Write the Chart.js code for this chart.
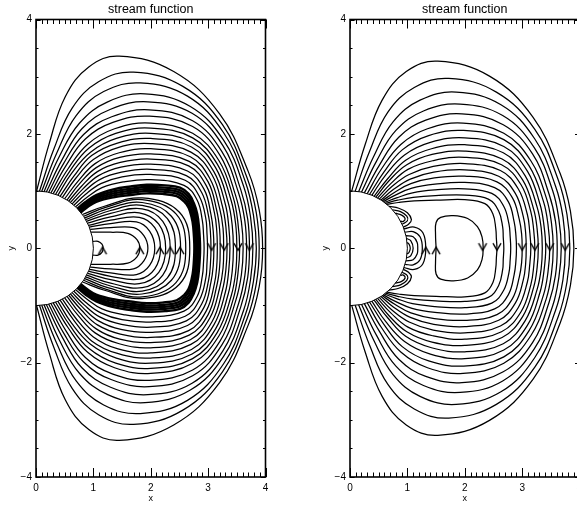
<!DOCTYPE html>
<html><head><meta charset="utf-8">
<script src="https://cdn.jsdelivr.net/npm/chart.js@4/dist/chart.umd.min.js"></script>
<style>
html,body{margin:0;padding:0;background:#fff;overflow:hidden;width:577px;height:506px;position:relative;}
#cl{position:absolute;left:0;top:0;}
#cr{position:absolute;left:290px;top:0;}
</style></head><body>
<canvas id="cl" width="290" height="506"></canvas>
<canvas id="cr" width="300" height="506"></canvas>
<script>
// ---------- tick labels ----------
const xTickValues = [0, 1, 2, 3, 4];
const xTickLabels = ['0', '1', '2', '3', '4'];
const yTickValues = [-4, -2, 0, 2, 4];
const yTickLabels = ['\u22124', '\u22122', '0', '2', '4'];
const panelTitle = 'stream function';

// ---------- LEFT panel: upper halves (sphere -> y=0 axis), mirrored below ----------
const leftOuter = [
 [[0.01,1.0],[0.23,1.83],[0.51,2.65],[0.92,3.17],[1.45,3.36],[2.40,3.09],[3.20,2.35],[3.70,1.34],[3.89,0.67],[3.95,0]],
 [[0.06,0.998],[0.31,1.73],[0.63,2.45],[1.09,2.91],[1.70,3.08],[2.56,2.83],[3.25,2.16],[3.68,1.23],[3.84,0.62],[3.89,0]],
 [[0.10,0.995],[0.36,1.66],[0.70,2.32],[1.18,2.74],[1.82,2.89],[2.64,2.66],[3.27,2.02],[3.65,1.16],[3.79,0.58],[3.84,0]],
 [[0.14,0.990],[0.40,1.59],[0.76,2.19],[1.25,2.56],[1.90,2.70],[2.69,2.48],[3.27,1.89],[3.62,1.08],[3.74,0.54],[3.78,0]],
 [[0.18,0.984],[0.45,1.54],[0.80,2.09],[1.30,2.43],[1.95,2.56],[2.72,2.36],[3.26,1.79],[3.57,1.02],[3.69,0.51],[3.72,0]],
 [[0.22,0.976],[0.48,1.48],[0.83,1.99],[1.32,2.30],[1.97,2.42],[2.73,2.23],[3.24,1.69],[3.53,0.97],[3.64,0.48],[3.67,0]],
 [[0.26,0.966],[0.52,1.44],[0.86,1.91],[1.34,2.20],[1.98,2.31],[2.73,2.13],[3.21,1.62],[3.48,0.92],[3.58,0.46],[3.61,0]],
 [[0.30,0.954],[0.56,1.39],[0.90,1.82],[1.37,2.09],[2.00,2.19],[2.73,2.01],[3.19,1.53],[3.44,0.88],[3.52,0.44],[3.55,0]],
 [[0.34,0.940],[0.59,1.35],[0.92,1.75],[1.39,2.01],[2.00,2.10],[2.73,1.93],[3.16,1.47],[3.40,0.84],[3.48,0.42],[3.50,0]],
 [[0.38,0.925],[0.62,1.31],[0.95,1.68],[1.40,1.92],[2.00,2.01],[2.72,1.85],[3.13,1.41],[3.35,0.80],[3.42,0.40],[3.44,0]],
 [[0.42,0.908],[0.66,1.26],[0.97,1.62],[1.42,1.84],[2.00,1.92],[2.71,1.77],[3.10,1.34],[3.30,0.77],[3.36,0.38],[3.38,0]],
 [[0.46,0.888],[0.69,1.22],[1.00,1.55],[1.43,1.76],[2.00,1.83],[2.70,1.68],[3.07,1.28],[3.25,0.73],[3.31,0.37],[3.33,0]],
 [[0.50,0.866],[0.73,1.17],[1.03,1.48],[1.45,1.67],[2.00,1.74],[2.69,1.60],[3.03,1.22],[3.20,0.70],[3.26,0.35],[3.27,0]],
 [[0.54,0.842],[0.76,1.13],[1.05,1.41],[1.46,1.59],[2.00,1.65],[2.67,1.52],[3.00,1.16],[3.15,0.66],[3.20,0.33],[3.21,0]],
 [[0.57,0.822],[0.79,1.08],[1.07,1.34],[1.47,1.50],[2.00,1.56],[2.66,1.44],[2.97,1.09],[3.11,0.62],[3.15,0.31],[3.16,0]],
 [[0.60,0.800],[0.81,1.03],[1.09,1.27],[1.48,1.42],[2.00,1.47],[2.64,1.35],[2.93,1.03],[3.05,0.59],[3.09,0.29],[3.10,0]],
 [[0.63,0.776],[0.84,0.99],[1.11,1.20],[1.49,1.33],[2.00,1.38],[2.62,1.27],[2.89,0.97],[3.01,0.55],[3.04,0.28],[3.05,0]],
 [[0.66,0.751],[0.86,0.94],[1.13,1.13],[1.50,1.25],[2.00,1.29],[2.60,1.19],[2.85,0.90],[2.96,0.52],[2.98,0.26],[2.99,0]],
 [[0.69,0.724],[0.89,0.89],[1.15,1.06],[1.52,1.16],[2.00,1.20],[2.58,1.10],[2.81,0.84],[2.90,0.48],[2.92,0.24],[2.93,0]]
];
const leftBand = [
 [[0.72,0.694],[0.85,0.80],[1.05,0.93],[1.35,1.03],[1.65,1.08],[1.93,1.11],[2.25,1.10],[2.51,1.06],[2.66,0.95],[2.75,0.79],[2.81,0.6],[2.84,0.38],[2.86,0]],
 [[0.735,0.678],[0.86,0.78],[1.05,0.90],[1.35,0.995],[1.65,1.04],[1.93,1.07],[2.235,1.06],[2.495,1.02],[2.64,0.92],[2.73,0.77],[2.785,0.59],[2.815,0.38],[2.835,0]],
 [[0.75,0.661],[0.875,0.76],[1.05,0.87],[1.35,0.96],[1.65,1.005],[1.93,1.035],[2.22,1.025],[2.48,0.985],[2.62,0.885],[2.705,0.75],[2.76,0.575],[2.79,0.38],[2.81,0]],
 [[0.765,0.644],[0.89,0.74],[1.05,0.84],[1.35,0.925],[1.65,0.97],[1.93,1.0],[2.21,0.99],[2.465,0.95],[2.60,0.85],[2.68,0.73],[2.735,0.56],[2.765,0.38],[2.785,0]],
 [[0.78,0.626],[0.9,0.72],[1.05,0.81],[1.35,0.89],[1.65,0.93],[1.93,0.96],[2.2,0.95],[2.45,0.91],[2.58,0.82],[2.66,0.71],[2.71,0.55],[2.74,0.38],[2.76,0]]
];
const leftInner = [
 [[0.993,0.12],[1.08,0.12],[1.15,0.07],[1.17,0]],
 [[0.96,0.28],[1.3,0.28],[1.6,0.26],[1.76,0.15],[1.81,0]],
 [[0.945,0.33],[1.3,0.36],[1.7,0.36],[1.88,0.22],[1.95,0]],
 [[0.93,0.37],[1.3,0.43],[1.75,0.46],[1.98,0.3],[2.07,0]],
 [[0.915,0.40],[1.3,0.49],[1.8,0.54],[2.07,0.36],[2.17,0]],
 [[0.90,0.44],[1.3,0.55],[1.8,0.62],[2.14,0.42],[2.26,0]],
 [[0.88,0.47],[1.3,0.61],[1.85,0.69],[2.21,0.47],[2.34,0]],
 [[0.865,0.50],[1.3,0.66],[1.85,0.75],[2.29,0.52],[2.43,0]],
 [[0.85,0.53],[1.25,0.69],[1.85,0.80],[2.36,0.56],[2.52,0]],
 [[0.83,0.56],[1.2,0.71],[1.85,0.85],[2.44,0.60],[2.61,0]],
 [[0.81,0.59],[1.18,0.73],[1.85,0.88],[2.5,0.63],[2.68,0]]
];
const leftArrowsUp = [1.16, 1.81, 2.16, 2.34, 2.51];
const leftArrowsDown = [3.06, 3.28, 3.52, 3.72];

// ---------- RIGHT panel ----------
const rightOuter = [
 [[0.03,1.0],[0.26,1.80],[0.56,2.59],[0.98,3.09],[1.53,3.27],[2.43,3.01],[3.19,2.29],[3.66,1.31],[3.84,0.65],[3.90,0]],
 [[0.09,0.996],[0.34,1.69],[0.66,2.38],[1.12,2.81],[1.72,2.97],[2.55,2.73],[3.22,2.08],[3.63,1.19],[3.78,0.59],[3.83,0]],
 [[0.15,0.989],[0.41,1.60],[0.75,2.21],[1.22,2.59],[1.85,2.73],[2.63,2.51],[3.22,1.91],[3.58,1.09],[3.71,0.55],[3.75,0]],
 [[0.20,0.980],[0.46,1.52],[0.80,2.06],[1.28,2.40],[1.92,2.52],[2.66,2.32],[3.21,1.76],[3.53,1.01],[3.64,0.50],[3.68,0]],
 [[0.25,0.968],[0.51,1.45],[0.85,1.94],[1.32,2.24],[1.95,2.35],[2.67,2.16],[3.18,1.65],[3.47,0.94],[3.58,0.47],[3.61,0]],
 [[0.30,0.954],[0.55,1.39],[0.89,1.82],[1.35,2.09],[1.97,2.19],[2.68,2.01],[3.15,1.53],[3.42,0.88],[3.51,0.44],[3.54,0]],
 [[0.34,0.940],[0.59,1.33],[0.91,1.72],[1.37,1.97],[1.98,2.06],[2.68,1.90],[3.12,1.44],[3.37,0.82],[3.45,0.41],[3.48,0]],
 [[0.38,0.925],[0.62,1.28],[0.95,1.63],[1.40,1.85],[2.00,1.93],[2.68,1.78],[3.09,1.35],[3.31,0.77],[3.38,0.39],[3.41,0]],
 [[0.42,0.908],[0.66,1.22],[0.97,1.54],[1.42,1.74],[2.00,1.81],[2.67,1.67],[3.05,1.27],[3.26,0.72],[3.33,0.36],[3.35,0]],
 [[0.45,0.893],[0.68,1.18],[0.99,1.46],[1.43,1.64],[2.00,1.70],[2.65,1.56],[3.01,1.19],[3.20,0.68],[3.26,0.34],[3.28,0]],
 [[0.48,0.877],[0.71,1.13],[1.01,1.38],[1.44,1.53],[2.00,1.59],[2.64,1.46],[2.98,1.11],[3.15,0.64],[3.20,0.32],[3.22,0]],
 [[0.51,0.860],[0.73,1.08],[1.03,1.29],[1.45,1.43],[2.00,1.48],[2.62,1.36],[2.93,1.04],[3.09,0.59],[3.13,0.30],[3.15,0]],
 [[0.54,0.842],[0.76,1.03],[1.05,1.21],[1.46,1.33],[2.00,1.37],[2.59,1.26],[2.88,0.96],[3.02,0.55],[3.06,0.27],[3.07,0]],
 [[0.56,0.828],[0.78,0.98],[1.06,1.13],[1.47,1.23],[2.00,1.26],[2.56,1.16],[2.83,0.88],[2.95,0.50],[2.99,0.25],[3.00,0]],
 [[0.58,0.815],[0.79,0.93],[1.08,1.05],[1.48,1.12],[2.00,1.15],[2.52,1.06],[2.76,0.81],[2.86,0.46],[2.89,0.23],[2.90,0]],
 [[0.60,0.800],[0.81,0.88],[1.09,0.97],[1.48,1.02],[2.00,1.04],[2.47,0.96],[2.68,0.73],[2.77,0.42],[2.79,0.21],[2.80,0]],
 [[0.62,0.785],[0.83,0.84],[1.10,0.89],[1.49,0.92],[2.00,0.93],[2.41,0.86],[2.59,0.65],[2.66,0.37],[2.67,0.19],[2.68,0]],
 [[0.64,0.768],[0.84,0.80],[1.12,0.83],[1.50,0.84],[2.00,0.85],[2.35,0.78],[2.49,0.60],[2.54,0.34],[2.55,0.17],[2.56,0]]
];
const rightD = [[1.50,0],[1.49,0.25],[1.50,0.45],[1.58,0.54],[1.80,0.57],[2.05,0.52],[2.22,0.38],[2.30,0.2],[2.32,0]];
const rightSphereLoops = [
 [[0.995,0.10],[1.03,0.07],[1.05,0]],
 [[0.985,0.17],[1.06,0.13],[1.10,0]],
 [[0.975,0.22],[1.1,0.2],[1.17,0.1],[1.18,0]],
 [[0.96,0.28],[1.1,0.29],[1.22,0.2],[1.26,0]],
 [[0.94,0.34],[1.12,0.37],[1.27,0.27],[1.32,0]]
];
const rightSideLoops = [
 [[0.68,0.733],[0.85,0.70],[1.0,0.62],[1.07,0.50],[1.02,0.42],[0.93,0.37]],
 [[0.74,0.673],[0.88,0.64],[0.99,0.56],[1.0,0.48],[0.907,0.42]],
 [[0.79,0.613],[0.9,0.58],[0.96,0.52],[0.93,0.47],[0.88,0.475]]
];
const rightArrowsUp = [1.32, 1.50];
const rightArrowsDown = [2.31, 2.56, 3.00, 3.22, 3.48, 3.75];

// ---------- helpers ----------
const FONT = "'Liberation Sans', Arial, Helvetica, sans-serif";
function mirrorPath(half){
  const up = half.map(p => ({x:p[0], y:p[1]}));
  const down = half.slice(0, -1).reverse().map(p => ({x:p[0], y:-p[1]}));
  return up.concat(down);
}
function asPts(path, s){ return path.map(p => ({x:p[0], y:s*p[1]})); }
function lineDs(data, w){
  return {data, showLine:true, borderColor:'#000', borderWidth:w || 1.25, pointRadius:0,
          pointHoverRadius:0, tension:0.4, fill:false};
}
function arrowImg(up){
  const c = document.createElement('canvas'); c.width = 12; c.height = 16;
  const g = c.getContext('2d'); g.strokeStyle = '#000'; g.lineWidth = 1.5;
  g.lineJoin = 'miter';
  g.beginPath();
  if (up){ g.moveTo(2,14); g.lineTo(6,7); g.lineTo(10,14); }
  else  { g.moveTo(2,3);  g.lineTo(6,10); g.lineTo(10,3); }
  g.stroke(); return c;
}
const UP = arrowImg(true), DOWN = arrowImg(false);
function arrowDs(xs, img){
  return {data: xs.map(x => ({x, y:0})), showLine:false, pointStyle:img, pointRadius:5, pointHoverRadius:5};
}

const framePlugin = {
  id:'frame',
  beforeDatasetsDraw(chart){
    const {ctx, scales:{x, y}} = chart;
    const cx = x.getPixelForValue(0), cy = y.getPixelForValue(0), r = x.getPixelForValue(1) - cx;
    ctx.save(); ctx.fillStyle = '#fff';
    ctx.beginPath(); ctx.arc(cx, cy, r, -Math.PI/2, Math.PI/2); ctx.fill(); ctx.restore();
  },
  afterDatasetsDraw(chart){
    const {ctx, chartArea:a, scales:{x, y}} = chart;
    ctx.save();
    ctx.beginPath(); ctx.rect(a.left, a.top, a.right - a.left, a.bottom - a.top); ctx.clip();
    const cx = x.getPixelForValue(0), cy = y.getPixelForValue(0), r = x.getPixelForValue(1) - cx;
    ctx.strokeStyle = '#000'; ctx.lineWidth = 1;
    ctx.beginPath(); ctx.arc(cx, cy, r, -Math.PI/2, Math.PI/2); ctx.stroke();
    ctx.restore();
    ctx.save(); ctx.strokeStyle = '#000'; ctx.lineWidth = 1;
    ctx.beginPath();
    for (let i = 0; i <= 40; i++){
      const px = Math.round(x.getPixelForValue(i/10)) + 0.5;
      const L = (i % 10 === 0) ? 9 : 4.5;
      ctx.moveTo(px, a.bottom); ctx.lineTo(px, a.bottom - L);
      ctx.moveTo(px, a.top); ctx.lineTo(px, a.top + L);
    }
    for (let i = -8; i <= 8; i++){
      const py = Math.round(y.getPixelForValue(i/2)) + 0.5;
      const L = (i % 4 === 0) ? 4.6 : 2.5;
      ctx.moveTo(a.left, py); ctx.lineTo(a.left + L, py);
      ctx.moveTo(a.right, py); ctx.lineTo(a.right - L, py);
    }
    ctx.stroke();
    ctx.lineWidth = 1.6;
    ctx.strokeRect(a.left, a.top, a.right - a.left, a.bottom - a.top);
    ctx.restore();
  }
};

function makeChart(id, datasets, padLeft, padRight){
  return new Chart(document.getElementById(id), {
    type:'scatter',
    data:{datasets},
    options:{
      responsive:false, animation:false, events:[], devicePixelRatio:1,
      layout:{padding:{left:padLeft, right:padRight, top:0, bottom:0}},
      plugins:{
        legend:{display:false}, tooltip:{enabled:false},
        title:{display:true, text:panelTitle, color:'#000', fullSize:false,
               font:{family:FONT, size:12.5, weight:'normal'}, padding:{top:2, bottom:2.5}}
      },
      scales:{
        x:{type:'linear', min:0, max:4, position:'bottom',
           grid:{display:false, drawTicks:false}, border:{display:false},
           ticks:{stepSize:1, color:'#000', padding:5, maxRotation:0, autoSkip:false,
                  font:{family:FONT, size:10},
                  callback:(v) => { const i = xTickValues.indexOf(v); return i >= 0 ? xTickLabels[i] : ''; }},
           title:{display:true, text:'x', color:'#000', font:{family:FONT, size:9}, padding:{top:0, bottom:2}},
           afterFit(s){ s.height = 29; }},
        y:{type:'linear', min:-4, max:4, position:'left',
           grid:{display:false, drawTicks:false}, border:{display:false},
           ticks:{stepSize:2, color:'#000', padding:4, autoSkip:false,
                  font:{family:FONT, size:10},
                  callback:(v) => { const i = yTickValues.indexOf(v); return i >= 0 ? yTickLabels[i] : ''; }},
           title:{display:true, text:'y', color:'#000', font:{family:FONT, size:9}, padding:{top:6, bottom:0}},
           afterFit(s){ s.width = 36; }}
      }
    },
    plugins:[framePlugin]
  });
}

// ---------- build datasets ----------
const leftSets = [];
leftOuter.forEach(h => leftSets.push(lineDs(mirrorPath(h))));
leftBand.forEach(h => leftSets.push(lineDs(mirrorPath(h), 2.4)));
leftInner.forEach(h => leftSets.push(lineDs(mirrorPath(h))));
leftSets.push(arrowDs(leftArrowsUp, UP));
leftSets.push(arrowDs(leftArrowsDown, DOWN));

const rightSets = [];
rightOuter.forEach(h => rightSets.push(lineDs(mirrorPath(h))));
rightSets.push(lineDs(mirrorPath(rightD)));
rightSphereLoops.forEach(h => rightSets.push(lineDs(mirrorPath(h))));
rightSideLoops.forEach(h => { rightSets.push(lineDs(asPts(h, 1))); rightSets.push(lineDs(asPts(h, -1))); });
rightSets.push(arrowDs(rightArrowsUp, UP));
rightSets.push(arrowDs(rightArrowsDown, DOWN));

makeChart('cl', leftSets, 0, 24.5);
makeChart('cr', rightSets, 24, 10.4);
</script>
</body></html>
